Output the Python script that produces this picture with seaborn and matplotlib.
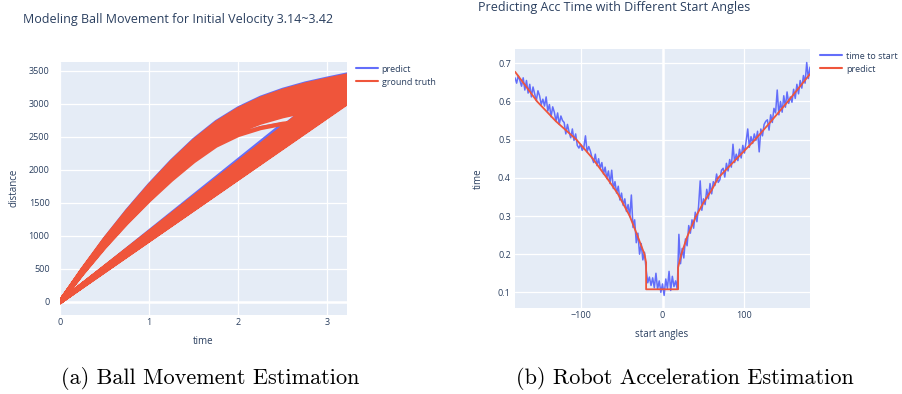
import matplotlib
matplotlib.use("Agg")
import matplotlib.pyplot as plt
import seaborn as sns
import pandas as pd
from matplotlib.lines import Line2D

# ---------------- data: (a) ball movement ----------------
TIME_GRID = [0.0, 0.25, 0.5, 0.75, 1.0, 1.25, 1.5, 1.75, 2.0, 2.25, 2.5, 2.75, 3.0, 3.25, 3.5]

GT_DIST = [
    [0, 490, 950, 1370, 1760, 2120, 2440, 2710, 2920, 3080, 3200, 3295, 3370, 3440],
    [0, 483, 937, 1351, 1735, 2090, 2405, 2672, 2880, 3038, 3158, 3252, 3326, 3392],
    [0, 476, 924, 1332, 1710, 2060, 2370, 2634, 2840, 2996, 3114, 3206, 3278, 3340],
    [0, 469, 911, 1313, 1685, 2030, 2335, 2596, 2800, 2953, 3068, 3158, 3228, 3288],
    [0, 462, 898, 1294, 1660, 2000, 2300, 2558, 2760, 2910, 3022, 3110, 3178, 3235],
    [0, 455, 885, 1275, 1635, 1970, 2265, 2520, 2718, 2865, 2975, 3060, 3125],
    [0, 455, 885, 1275, 1635, 1970, 2265, 2520, 2718, 2865, 2975, 3060, 3125, 3180],
    [0, 448, 872, 1256, 1610, 1940, 2230, 2480, 2675, 2818, 2925, 3006, 3068],
    [0, 448, 872, 1256, 1610, 1940, 2230, 2480, 2675, 2818, 2925, 3006, 3068, 3120],
    [0, 441, 858, 1237, 1585, 1910, 2195, 2440, 2630, 2770, 2872, 2950, 3008],
    [0, 441, 858, 1237, 1585, 1910, 2195, 2440, 2630, 2770, 2872, 2950, 3008, 3040],
    [0, 434, 844, 1218, 1560, 1880, 2160, 2400, 2585, 2718, 2815, 2888],
    [0, 476, 924, 1332, 1710, 2060, 2370, 2634, 2840, 2996, 3114, 3206, 3278, 3340, 3395],
    [0, 462, 898, 1294, 1660, 2000, 2300, 2558, 2760, 2910, 3022, 3110, 3178, 3235, 3285],
    [0, 428, 830, 1200, 1540, 1852, 2132, 2368, 2530, 2635, 2700, 2740],
]

PRED_DIST = [
    [0, 432, 836, 1208, 1550, 1866, 2142, 2375, 2540, 2645, 2705],
    [0, 500, 968, 1395, 1787, 2147, 2467, 2737, 2946, 3106, 3226, 3321, 3396, 3466],
    [0, 472, 916, 1320, 1695, 2045, 2352, 2612, 2815, 2966, 3080, 3168, 3236, 3295],
    [0, 452, 878, 1265, 1622, 1955, 2248, 2500, 2700, 2846, 2955, 3040, 3100],
]

# ---------------- data: (b) robot acceleration ----------------
ANGLES = list(range(-180, 181, 2))
TIME_TO_START = [
    0.662, 0.648, 0.668, 0.655, 0.640, 0.662, 0.630, 0.655, 0.622, 0.645,
    0.612, 0.638, 0.620, 0.602, 0.628, 0.615, 0.592, 0.606, 0.588, 0.612,
    0.575, 0.592, 0.560, 0.586, 0.572, 0.548, 0.570, 0.540, 0.562, 0.550,
    0.545, 0.515, 0.540, 0.520, 0.505, 0.528, 0.498, 0.515, 0.485, 0.478,
    0.488, 0.472, 0.480, 0.510, 0.468, 0.482, 0.470, 0.452, 0.440, 0.462,
    0.432, 0.450, 0.425, 0.440, 0.410, 0.428, 0.398, 0.418, 0.385, 0.420,
    0.372, 0.390, 0.360, 0.378, 0.342, 0.360, 0.328, 0.345, 0.312, 0.330,
    0.298, 0.355, 0.270, 0.290, 0.230, 0.255, 0.200, 0.228, 0.185, 0.205,
    0.160, 0.125, 0.140, 0.118, 0.138, 0.112, 0.150, 0.108, 0.130, 0.100,
    0.122, 0.092, 0.135, 0.110, 0.155, 0.105, 0.142, 0.115, 0.130, 0.108,
    0.252, 0.175, 0.215, 0.190, 0.240, 0.222, 0.275, 0.255, 0.290, 0.268,
    0.310, 0.285, 0.325, 0.392, 0.315, 0.345, 0.330, 0.370, 0.345, 0.385,
    0.358, 0.390, 0.380, 0.410, 0.388, 0.395, 0.420, 0.425, 0.402, 0.438,
    0.418, 0.448, 0.428, 0.488, 0.440, 0.462, 0.445, 0.475, 0.452, 0.485,
    0.465, 0.495, 0.528, 0.480, 0.508, 0.490, 0.515, 0.498, 0.522, 0.468,
    0.528, 0.510, 0.540, 0.548, 0.552, 0.525, 0.565, 0.545, 0.582, 0.570,
    0.630, 0.565, 0.600, 0.572, 0.615, 0.585, 0.625, 0.595, 0.612, 0.598,
    0.632, 0.608, 0.645, 0.620, 0.655, 0.635, 0.668, 0.648, 0.702, 0.660,
    0.690,
]
PRED_ANGLES = [-180, -165, -153, -130, -105, -85, -68, -55, -40, -30, -22, -20, -20,
               19, 19, 23, 30, 41, 50, 60, 68, 90, 113, 130, 153, 165, 180]
PRED_TIME = [0.678, 0.635, 0.600, 0.548, 0.500, 0.450, 0.400, 0.360, 0.300, 0.245, 0.200, 0.178, 0.108,
             0.108, 0.165, 0.200, 0.245, 0.300, 0.335, 0.368, 0.400, 0.449, 0.500, 0.542, 0.600, 0.632, 0.672]

TITLE_A = "Modeling Ball Movement for Initial Velocity 3.14~3.42"
TITLE_B = "Predicting Acc Time with Different Start Angles"
CAPTION_A = "(a) Ball Movement Estimation"
CAPTION_B = "(b) Robot Acceleration Estimation"

BLUE = "#636EFA"
RED = "#EF553B"
BG = "#E5ECF6"
TXT = "#2a3f5f"

sns.set_theme(style="darkgrid")
plt.rcParams["font.family"] = ["Open Sans", "DejaVu Sans"]
plt.rcParams["axes.unicode_minus"] = True


def traj_frame(dists):
    rows = []
    for d in dists:
        for t, v in zip(TIME_GRID, d):
            rows.append((t, v))
    return pd.DataFrame(rows, columns=["time", "distance"])


fig = plt.figure(figsize=(9.02, 3.94), dpi=100)
fig.patch.set_facecolor("white")
W, H = 902.0, 394.0
ax1 = fig.add_axes([60 / W, (H - 315) / H, 287 / W, 253 / H])
ax2 = fig.add_axes([515 / W, (H - 308) / H, 295 / W, 259 / H])

for ax in (ax1, ax2):
    ax.set_facecolor(BG)
    for s in ax.spines.values():
        s.set_visible(False)
    ax.grid(True, color="white", lw=0.9)
    ax.set_axisbelow(True)
    ax.tick_params(length=0, labelsize=6.5, labelcolor=TXT)

# ---- panel (a)
ax1.axhline(0, color="white", lw=1.8, zorder=1)
sns.lineplot(data=traj_frame(PRED_DIST), x="time", y="distance", sort=False, estimator=None,
             color=BLUE, lw=2.0, ax=ax1, legend=False, zorder=2)
sns.lineplot(data=traj_frame(GT_DIST), x="time", y="distance", sort=False, estimator=None,
             color=RED, lw=3.1, ax=ax1, legend=False, zorder=3)
for ln in ax1.lines:
    ln.set_solid_joinstyle("round")
ax1.set_xlim(0, 3.22)
ax1.set_ylim(-197, 3636)
ax1.set_xticks([0, 1, 2, 3])
ax1.set_yticks([0, 500, 1000, 1500, 2000, 2500, 3000, 3500])
ax1.tick_params(axis="y", pad=7.5)
ax1.tick_params(axis="x", pad=2.5)
ax1.set_xlabel("time", fontsize=7, color=TXT)
ax1.set_ylabel("distance", fontsize=7, color=TXT)
ax1.xaxis.label.set_va("center")
ax1.yaxis.label.set_va("center")
ax1.xaxis.set_label_coords(0.5, -0.103)
ax1.yaxis.set_label_coords(-0.160, 0.502)
ax1.legend(handles=[Line2D([], [], color=BLUE, lw=1.5), Line2D([], [], color=RED, lw=1.5)],
           labels=["predict", "ground truth"], loc="upper left", bbox_to_anchor=(1.031, 0.99),
           frameon=False, borderpad=0, borderaxespad=0, handlelength=2.4, handletextpad=0.45,
           labelspacing=0.45, fontsize=6.5, labelcolor=TXT)

# ---- panel (b)
ax2.axvline(0, color="white", lw=1.8, zorder=1)
sns.lineplot(x=ANGLES, y=TIME_TO_START, color=BLUE, lw=1.1, ax=ax2, sort=False, estimator=None, zorder=2)
sns.lineplot(x=PRED_ANGLES, y=PRED_TIME, color=RED, lw=1.3, ax=ax2, sort=False, estimator=None, zorder=3)
ax2.set_xlim(-180, 180)
ax2.set_ylim(0.059, 0.7375)
ax2.set_xticks([-100, 0, 100])
ax2.set_yticks([0.1, 0.2, 0.3, 0.4, 0.5, 0.6, 0.7])
ax2.tick_params(axis="y", pad=3)
ax2.tick_params(axis="x", pad=2.5)
ax2.set_xlabel("start angles", fontsize=7, color=TXT)
ax2.set_ylabel("time", fontsize=7, color=TXT)
ax2.xaxis.label.set_va("center")
ax2.yaxis.label.set_va("center")
ax2.xaxis.set_label_coords(0.498, -0.104)
ax2.yaxis.set_label_coords(-0.125, 0.498)
ax2.legend(handles=[Line2D([], [], color=BLUE, lw=1.5), Line2D([], [], color=RED, lw=1.5)],
           labels=["time to start", "predict"], loc="upper left", bbox_to_anchor=(1.034, 0.99),
           frameon=False, borderpad=0, borderaxespad=0, handlelength=2.4, handletextpad=0.45,
           labelspacing=0.45, fontsize=6.5, labelcolor=TXT)

# ---- titles and captions
fig.text(23 / W, 1 - 20 / H, TITLE_A, fontsize=9, color=TXT, ha="left", va="center")
fig.text(478 / W, 1 - 8 / H, TITLE_B, fontsize=9, color=TXT, ha="left", va="center")
fig.text(210 / W, 1 - 378 / H, CAPTION_A, fontsize=16, family="cmr10", color="black", ha="center", va="center")
fig.text(685 / W, 1 - 378 / H, CAPTION_B, fontsize=16, family="cmr10", color="black", ha="center", va="center")

fig.savefig("out.png", dpi=100, facecolor="white")
